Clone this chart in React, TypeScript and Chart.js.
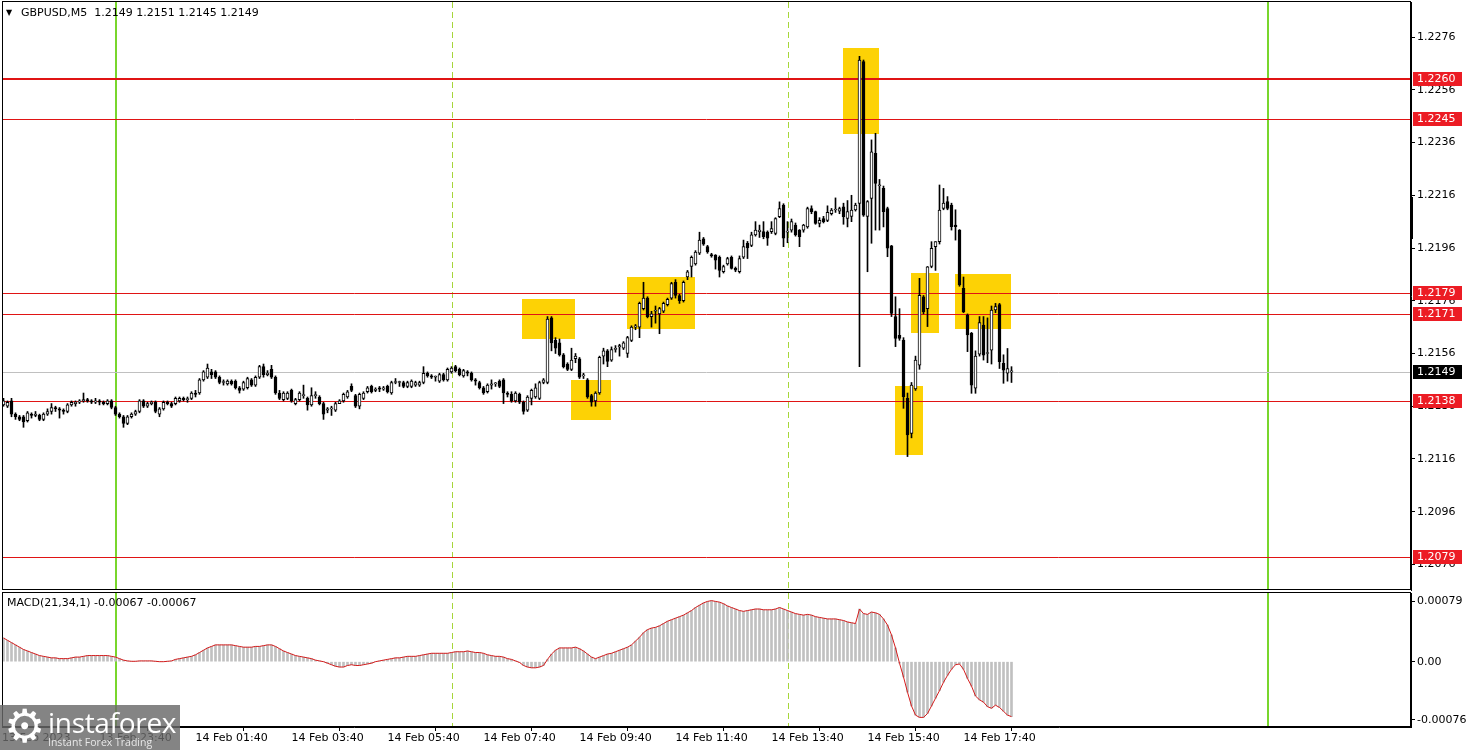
import React, { useEffect, useRef } from "react";
import { Chart, registerables } from "chart.js";
Chart.register(...registerables);

// ---------- DATA (prices in pips above 1.2000) ----------
const PRICE_BASE = 1.2;
const PIP = 0.0001;

const opens = [
  136.5,136,138,133,132,132,130.5,133,132.5,132.5,
  131,133,134,135.5,135,134.5,134,136.5,137,137.5,
  138,138.5,138,137.5,138,137.5,137,138,135.5,133,
  132,129.5,132,133,134,138,136,137,137.5,133,
  135,137.5,137,137,138,139,138.5,139,141,141,
  146,147,149,149,147,145,144.5,145.5,145.5,143,
  142.5,143,146,144,147,151,148,150,147,141,
  138.5,139,142,137,138.5,140,139,136.5,140,139.5,
  137,134.5,135,134.5,137,138,139.5,143.5,140,136,
  139,141.5,143.5,142,143,142.5,143.5,141,145,145,
  145,143.5,143.5,144,144,145,148.5,147.5,147,145.5,
  148,146,149,151,150,147.5,149,148.5,146,145,
  143,141.5,144,144.5,145.5,146,141,140.5,138,140.5,
  137.5,134.5,139,139.5,139,145,145,169.5,161,160,
  155.5,152,150,154,154,147.5,146,140,138,141,
  155,157,153.5,157.5,158.5,158,156,161,166,166,
  173,177,170,172,171,172,174.5,177,183,178,
  176,185,189,190,194,199.5,196.5,193.5,193.3,192.5,
  187,190,192.5,188.3,187,192.5,197.8,197,201,202.2,
  202.2,202,202.2,201.5,207.9,212.3,202,202.8,204.7,202.8,
  202.8,204,211,209.8,205.3,207.2,206.5,209,210.4,210,
  211.6,207.2,208,210.4,212.9,266.7,208,214.8,231.9,219.6,
  218.6,211,196.8,170,162.9,161.1,139,125.7,142.6,151.6,
  177.5,173,189,196.5,198.4,211,213.6,212.3,204.7,202.8,
  180.7,170.6,163.6,142.8,155.7,166.8,156,157.3,172.5,174.5,
  152.3,148.5,149,
];
const highs = [
  139,138,139,133.5,132.5,132.5,134,133.5,134,133,
  133.5,135,137,136,135.5,135,137,138,138,138.5,
  141,139,138.5,139,138.5,138,138.5,138.5,136,133.5,
  132.5,132.5,133.5,134.5,138.5,138.5,137.5,138,138,135.5,
  138,138,137.5,139.5,139.5,139.5,139.5,141.5,142,146.5,
  149.5,152,150,149.5,147.5,146,146,146,146,143.5,
  145.5,147,146.5,147.5,151.5,152,149.5,151.5,147.5,142,
  141.5,141.5,142.5,139,141.5,144,139.5,143,141.5,140,
  137.5,135.5,136,137.5,138.5,141,142,144.5,140.5,141,
  141.5,143.5,144,143,143.5,143.5,144,145.5,146.5,145.5,
  145.5,145.5,146,145.5,145.5,151,149,148,147.5,148.5,
  148.5,150.5,151,151.5,150.5,150,149.5,149,146.5,145.5,
  143.5,144.5,146,145,146,146.5,141.5,141.5,141.5,141,
  138,140,142.5,144.5,145.5,146.5,170,170,162,161.5,
  156,152.5,158,156,154.5,148.5,146.5,140.5,141.5,155,
  158,157.5,158.5,159,159.5,160.5,162.5,166.5,167,175.5,
  183,177.5,172,174,173.5,175.5,177,183,184,178.5,
  183.5,187.5,193,195,202,200,197,194,193.5,193,
  189.5,192.5,193,188.8,193,199,198.5,202,206,204.7,
  206,202.5,206,207.5,213.5,212.8,206,207,205.5,203,
  205,211.5,212,210,207.5,208,212,211,215,211.5,
  213,214,216,213,268.7,267.3,214,237,239.5,222,
  219.5,211.5,197,177.5,173,162,141,145,155,184.5,
  178,189,198.4,198.4,219.9,218.6,215.5,213,210.5,203,
  185,171,164,157,170,170,169.5,174,175,175,
  155.5,157.9,151,
];
const lows = [
  136,135.5,132,131,130.5,128,130,131.5,132,130.5,
  130.5,132.5,133,134,131.5,133,133.5,136,136,137,
  137.5,137.5,137,137,136.5,136.5,136.5,135,132.5,131.5,
  128,129,131.5,132.5,133.5,135.5,135.5,136.5,133.5,132,
  134.5,136.5,135.5,136.5,137.5,138,137.5,138.5,139.5,140.5,
  145.5,146.5,146.5,146.5,144.5,144,144,144,142.5,141,
  142,142.5,143.5,143.5,146.5,147,147.5,146.5,140.5,138.5,
  138,138.5,137.5,136.5,138,139,134.5,136,139,136.5,
  131,133.5,132.5,134,137,137.5,139,141.5,135.5,135,
  138.5,141,141,141.5,141.5,142,141,140.5,144.5,143.5,
  143,143,143,143.5,143.5,144.5,147,146.5,145.5,145,
  145.5,145.5,148.5,149,147.5,147,147.5,145.5,144,142.5,
  140.5,141,142.5,143.5,143,137,139.5,137.5,137.5,137,
  133,134,136.5,139,138.5,144.5,144.5,157,156,155,
  150.5,149.5,149.5,152.5,146.5,146.5,139,136,136,140.5,
  152,151,153,156.5,155,157.5,154.5,160.5,165,162,
  172.5,169.5,166,167.5,163.5,171.5,174,176.5,177,175,
  175.5,184,185,189.5,193.5,197,194,192.5,188,185,
  186.5,189.5,188,187,186.5,192,192,196.5,200.5,200,
  199.5,197,201.5,201,207.5,196.5,198,202,200.5,196.5,
  202,203.5,209,205,204,205.5,206,208.5,209.5,209,
  205,204,206,210,151,208,187,197.8,202.8,202.8,
  204,192.7,170,158.6,161,135.2,116.9,124,142,150,
  171,166.2,188.5,187.5,197.5,210.5,210.5,202.8,199,181.5,
  171.5,156.7,140.9,140.9,155,153.5,152.5,152,171.5,150.3,
  144.7,145.5,145,
];
const closes = [
  138,137.5,133,132,131,130,133.5,132.5,133,131,
  133,134,135.5,135,134.5,134,136.5,137.5,137.5,138,
  138.5,138,137.5,138,137.5,137,138,135.5,133,132,
  129.5,132,133,134,138,136,137,137.5,134,135,
  137.5,137,136,139,139,138.5,138.5,141,140.5,146,
  149,150.5,148,147,145,145,145.5,144.5,143,142,
  145,146.5,144,147,151,148,148.5,147,141,139,
  141,141,138,138.5,141,140,136.5,140,140,137,
  133,135,135,137,138,140.5,141.5,142,136,140.5,
  141,143,141.5,142.5,142.5,143,141.5,145,145,145,
  143.5,145,145.5,145,145,148.5,147.5,147,147,148,
  146,150,150.5,149.5,148,149.5,148.5,146,145.5,143,
  141,144,144.5,144.5,143.5,141,140.5,138,141,137.5,
  134,139.5,142,143,145,146,169,160,158,155.5,
  151,150,153.5,155,147,147.5,139.5,137.5,141,154.5,
  157,153,157.5,158,159,160,162,166,166.5,175,
  177,170,171,172,173,175,176.5,182.5,178,176,
  183,187,192.5,194.5,199,197.5,194.5,193,191.4,187.5,
  189,192,188.3,187.6,192,196.5,196,201,202.8,202.8,
  200.3,199.7,203.4,207.2,211,199.7,202,206,201,200.3,
  204.7,211,209.8,205.3,206.5,206,209.5,210.4,210.4,211,
  207.9,209.8,210.4,212.3,267.3,208.5,213.6,232.5,220.5,219.6,
  209.8,195.9,171.2,161.7,161.7,139.6,125.1,144,153.5,178.1,
  171.8,188.9,195.9,198.4,210.4,213,211,204.1,204.1,182,
  171.8,163,144,155,167.7,155.4,156,172.5,173.8,152.9,
  149.7,150.3,149,
];

// MACD(21,34,1) main value per bar, in units of 0.00001
const macdE5 = [
  31,28,25,22,19,16,14,12,10,8,7,
  6,5,5,4,4,4,5,6,6,7,
  8,8,8,8,8,8,7,6,4,2,
  1,0.5,0.5,1,1,1,1,0.5,0,0,
  0.5,1,3,4,5,6,7,9,12,15,
  18,20,22,22,22,22,22,21,20,19,
  19,19,20,20,21,22,22,20,17,14,
  12,10,8,7,6,5,4,2,1,0,
  -2,-4,-6,-7,-7,-5,-4,-5,-5,-4,
  -3,-2,0,1,2,3,4,5,5,6,
  7,7,7,8,9,10,11,11,11,11,
  11,12,13,13,13,14,13,12,12,11,
  9,8,7,7,6,4,3,1,-1,-5,
  -7,-8,-8,-7,-5,3,10,15,18,18,
  18,18,19,17,14,10,6,4,6,8,
  10,11,13,15,17,19,22,27,32,38,
  42,44,45,47,50,53,55,57,59,61,
  64,67,71,74,77,79,80,79,78,76,
  73,71,69,67,66,67,68,69,69,68,
  68,68,69,71,69,67,65,63,62,61,
  62,61,59,58,57,56,56,56,55,54,
  52,51,50,69,63,62,65,64,62,56,
  48,35,18,-2,-20,-40,-58,-70,-73,-73,
  -68,-58,-48,-38,-27,-18,-10,-4,-3,-10,
  -22,-32,-45,-50,-53,-59,-61,-57,-60,-65,
  -70,-72,
];

const priceTicks = [1.2276, 1.2256, 1.2236, 1.2216, 1.2196, 1.2176, 1.2156, 1.2136, 1.2116, 1.2096, 1.2076];
const levels = [1.226, 1.2245, 1.2179, 1.2171, 1.2138, 1.2079];
const lastPrice = 1.2149;
const macdTicks = [0.00079, 0, -0.00076];
const macdTickLabels = ["0.00079", "0.00", "-0.00076"];
const timeTickIdx = [-0.375, 24, 48, 72, 96, 120, 144, 168, 192, 216, 240];
const timeTickLabels = [
  "13 Feb 2023", "13 Feb 23:40", "14 Feb 01:40", "14 Feb 03:40", "14 Feb 05:40",
  "14 Feb 07:40", "14 Feb 09:40", "14 Feb 11:40", "14 Feb 13:40", "14 Feb 15:40", "14 Feb 17:40",
];
const dayLines = [28, 316];
const sessionLines = [112, 196];
// highlight boxes: [first bar, last bar, low price, high price]
const boxes = [
  [129.6, 142.9, 1.21615, 1.21767],
  [141.9, 151.9, 1.21308, 1.2146],
  [155.9, 172.9, 1.21653, 1.2185],
  [209.9, 218.9, 1.22392, 1.22718],
  [222.9, 229.9, 1.21175, 1.21437],
  [226.9, 233.9, 1.21638, 1.21865],
  [237.9, 251.9, 1.21653, 1.21861],
];
const axisMarker = [1.21994, 1.22153];
const headerText = "GBPUSD,M5  1.2149 1.2151 1.2145 1.2149";
const macdText = "MACD(21,34,1) -0.00067 -0.00067";

// ---------- view constants ----------
const X_MIN = -0.375;
const X_MAX = X_MIN + 1409 / 4;
const Y_MIN = 1.20663;
const Y_MAX = 1.22893;
const M_MAX = 0.0009;
const M_MIN = -0.000856;
const FONT = "DejaVu Sans";
const AXIS_W = 57;

const price = (p: number) => PRICE_BASE + p * PIP;
const idx = closes.map((_, i) => i);

function noPad(s: any) {
  s.paddingTop = 0;
  s.paddingBottom = 0;
  s.paddingLeft = 0;
  s.paddingRight = 0;
}

function drawVerticals(chart: any) {
  const { ctx, chartArea: a, scales } = chart;
  const x = scales.x;
  ctx.save();
  ctx.beginPath();
  ctx.rect(a.left, a.top, a.right - a.left, a.bottom - a.top);
  ctx.clip();
  ctx.strokeStyle = "#78d62c";
  ctx.lineWidth = 2;
  dayLines.forEach((v) => {
    const px = Math.round(x.getPixelForValue(v));
    ctx.beginPath();
    ctx.moveTo(px, a.top);
    ctx.lineTo(px, a.bottom);
    ctx.stroke();
  });
  ctx.strokeStyle = "#a6d63a";
  ctx.lineWidth = 1;
  ctx.setLineDash([6, 4]);
  sessionLines.forEach((v) => {
    const px = Math.round(x.getPixelForValue(v)) + 0.5;
    ctx.beginPath();
    ctx.moveTo(px, a.top);
    ctx.lineTo(px, a.bottom);
    ctx.stroke();
  });
  ctx.restore();
}

function drawFrame(chart: any) {
  const { ctx, chartArea: a } = chart;
  ctx.save();
  ctx.strokeStyle = "#000";
  ctx.lineWidth = 1;
  ctx.strokeRect(a.left + 0.5, a.top - 0.5, a.right - a.left - 1, a.bottom - a.top);
  ctx.restore();
}

const mainPlugin = {
  id: "mainDecor",
  beforeDatasetsDraw(chart: any) {
    const { ctx, chartArea: a, scales } = chart;
    const x = scales.x, y = scales.y;
    ctx.save();
    ctx.beginPath();
    ctx.rect(a.left, a.top, a.right - a.left, a.bottom - a.top);
    ctx.clip();
    ctx.fillStyle = "#fdd205";
    boxes.forEach(([i0, i1, p0, p1]) => {
      const l = x.getPixelForValue(i0), r = x.getPixelForValue(i1);
      const t = y.getPixelForValue(p1), b = y.getPixelForValue(p0);
      ctx.fillRect(Math.round(l), Math.round(t), Math.round(r - l), Math.round(b - t));
    });
    ctx.restore();
    drawVerticals(chart);
    ctx.save();
    // current price line
    ctx.strokeStyle = "#c0c0c0";
    ctx.lineWidth = 1;
    const yl = Math.round(y.getPixelForValue(lastPrice)) + 0.5;
    ctx.beginPath();
    ctx.moveTo(a.left, yl);
    ctx.lineTo(a.right, yl);
    ctx.stroke();
    levels.forEach((lv) => {
      const thick = lv === 1.226;
      ctx.strokeStyle = "#e01414";
      ctx.lineWidth = thick ? 2 : 1;
      const py = Math.round(y.getPixelForValue(lv)) + (thick ? 0 : 0.5);
      ctx.beginPath();
      ctx.moveTo(a.left, py);
      ctx.lineTo(a.right, py);
      ctx.stroke();
    });
    ctx.restore();
  },
  afterDraw(chart: any) {
    const { ctx, chartArea: a, scales } = chart;
    const y = scales.y;
    drawFrame(chart);
    ctx.save();
    ctx.font = `11px "${FONT}"`;
    ctx.textBaseline = "middle";
    ctx.textAlign = "left";
    const label = (v: number, bg: string) => {
      const py = Math.round(y.getPixelForValue(v));
      ctx.fillStyle = bg;
      ctx.fillRect(a.right + 2, py - 7, 49, 14);
      ctx.fillStyle = "#fff";
      ctx.fillText(v.toFixed(4), a.right + 6, py + 0.5);
    };
    levels.forEach((lv) => label(lv, "#ec1c24"));
    label(lastPrice, "#000");
    // axis marker
    const t = y.getPixelForValue(axisMarker[1]), b = y.getPixelForValue(axisMarker[0]);
    ctx.fillStyle = "#000";
    ctx.fillRect(a.right - 1, Math.round(t), 3, Math.round(b - t));
    ctx.restore();
  },
};

const macdPlugin = {
  id: "macdDecor",
  beforeDatasetsDraw(chart: any) {
    drawVerticals(chart);
  },
  afterDraw(chart: any) {
    drawFrame(chart);
  },
};

function mainConfig(): any {
  return {
    type: "bar",
    data: {
      datasets: [
        {
          label: "wick",
          data: idx.map((i) => ({ x: i, y: [price(lows[i]), price(highs[i])] })),
          backgroundColor: "#000",
          barThickness: 1,
          grouped: false,
          order: 2,
        },
        {
          label: "body",
          data: idx.map((i) => ({
            x: i,
            y: [price(Math.min(opens[i], closes[i])), price(Math.max(opens[i], closes[i]))],
          })),
          backgroundColor: idx.map((i) => (closes[i] >= opens[i] ? "#fff" : "#000")),
          borderColor: "#000",
          borderWidth: 1,
          borderSkipped: false,
          barThickness: 3,
          minBarLength: 1,
          grouped: false,
          order: 1,
        },
      ],
    },
    options: {
      animation: false,
      responsive: false,
      maintainAspectRatio: false,
      events: [],
      layout: { padding: { left: 2, top: 2, right: 0, bottom: 2 } },
      plugins: { legend: { display: false }, tooltip: { enabled: false } },
      scales: {
        x: { type: "linear", min: X_MIN, max: X_MAX, display: false, offset: false },
        y: {
          type: "linear",
          position: "right",
          min: Y_MIN,
          max: Y_MAX,
          afterFit: (s: any) => { s.width = AXIS_W; noPad(s); },
          afterBuildTicks: (s: any) => { s.ticks = priceTicks.map((v) => ({ value: v })); },
          ticks: {
            callback: (v: any) => Number(v).toFixed(4),
            font: { family: FONT, size: 11 },
            color: "#000",
            padding: 2,
            autoSkip: false,
          },
          grid: { drawOnChartArea: false, drawTicks: true, tickLength: 4, color: "#000" },
          border: { display: true, color: "#000" },
        },
      },
    },
    plugins: [mainPlugin],
  };
}

function macdConfig(): any {
  const pts = idx.map((i) => ({ x: i, y: macdE5[i] * 0.00001 }));
  return {
    type: "bar",
    data: {
      datasets: [
        {
          type: "line",
          label: "signal",
          data: pts,
          borderColor: "#d41c1c",
          borderWidth: 1,
          pointRadius: 0,
          tension: 0,
          order: 1,
        },
        {
          label: "macd",
          data: pts,
          backgroundColor: "#c0c0c0",
          barThickness: 2,
          grouped: false,
          order: 2,
        },
      ],
    },
    options: {
      animation: false,
      responsive: false,
      maintainAspectRatio: false,
      events: [],
      layout: { padding: { left: 2, top: 1, right: 0, bottom: 0 } },
      plugins: { legend: { display: false }, tooltip: { enabled: false } },
      scales: {
        x: {
          type: "linear",
          min: X_MIN,
          max: X_MAX,
          offset: false,
          afterFit: (s: any) => { s.height = 23; noPad(s); },
          afterBuildTicks: (s: any) => { s.ticks = timeTickIdx.map((v) => ({ value: v })); },
          ticks: {
            callback: (_v: any, i: number) => timeTickLabels[i],
            align: "start",
            autoSkip: false,
            maxRotation: 0,
            minRotation: 0,
            font: { family: FONT, size: 11 },
            color: "#000",
            padding: 1,
          },
          grid: { drawOnChartArea: false, drawTicks: true, tickLength: 4, color: "#000" },
          border: { display: true, color: "#000" },
        },
        y: {
          type: "linear",
          position: "right",
          min: M_MIN,
          max: M_MAX,
          afterFit: (s: any) => { s.width = AXIS_W; noPad(s); },
          afterBuildTicks: (s: any) => { s.ticks = macdTicks.map((v) => ({ value: v })); },
          ticks: {
            callback: (_v: any, i: number) => macdTickLabels[i],
            font: { family: FONT, size: 11 },
            color: "#000",
            padding: 2,
            autoSkip: false,
          },
          grid: { drawOnChartArea: false, drawTicks: true, tickLength: 4, color: "#000" },
          border: { display: true, color: "#000" },
        },
      },
    },
    plugins: [macdPlugin],
  };
}

export default function App() {
  const mainRef = useRef<HTMLCanvasElement>(null);
  const macdRef = useRef<HTMLCanvasElement>(null);
  useEffect(() => {
    document.body.style.margin = "0";
    const c1 = new Chart(mainRef.current as HTMLCanvasElement, mainConfig());
    const c2 = new Chart(macdRef.current as HTMLCanvasElement, macdConfig());
    return () => {
      c1.destroy();
      c2.destroy();
    };
  }, []);
  const txt: React.CSSProperties = {
    position: "absolute",
    fontFamily: FONT,
    fontSize: 11,
    lineHeight: "14px",
    color: "#000",
    whiteSpace: "pre",
  };
  return (
    <div style={{ position: "relative", width: 1468, height: 750, background: "#fff", overflow: "hidden" }}>
      <canvas ref={mainRef} width={1468} height={592} style={{ position: "absolute", left: 0, top: 0 }} />
      <canvas ref={macdRef} width={1468} height={158} style={{ position: "absolute", left: 0, top: 592 }} />
      <div style={{ ...txt, left: 6, top: 6, fontSize: 8 }}>▼</div>
      <div style={{ ...txt, left: 21, top: 6 }}>{headerText}</div>
      <div style={{ ...txt, left: 7, top: 596 }}>{macdText}</div>
      <div
        style={{
          position: "absolute",
          left: 0,
          top: 705,
          width: 180,
          height: 45,
          background: "rgba(105,105,105,0.82)",
        }}
      >
        <div style={{ position: "absolute", left: 4, top: -5, fontFamily: FONT, fontSize: 46, color: "#fff", lineHeight: "52px" }}>⚙</div>
        <div style={{ position: "absolute", left: 48, top: 0, fontFamily: "Open Sans", fontSize: 28, color: "#fff", lineHeight: "34px", letterSpacing: -0.3 }}>instaforex</div>
        <div style={{ position: "absolute", left: 48, top: 31, fontFamily: "Open Sans", fontSize: 10.5, color: "#e8e8e8", lineHeight: "12px" }}>Instant Forex Trading</div>
      </div>
    </div>
  );
}
